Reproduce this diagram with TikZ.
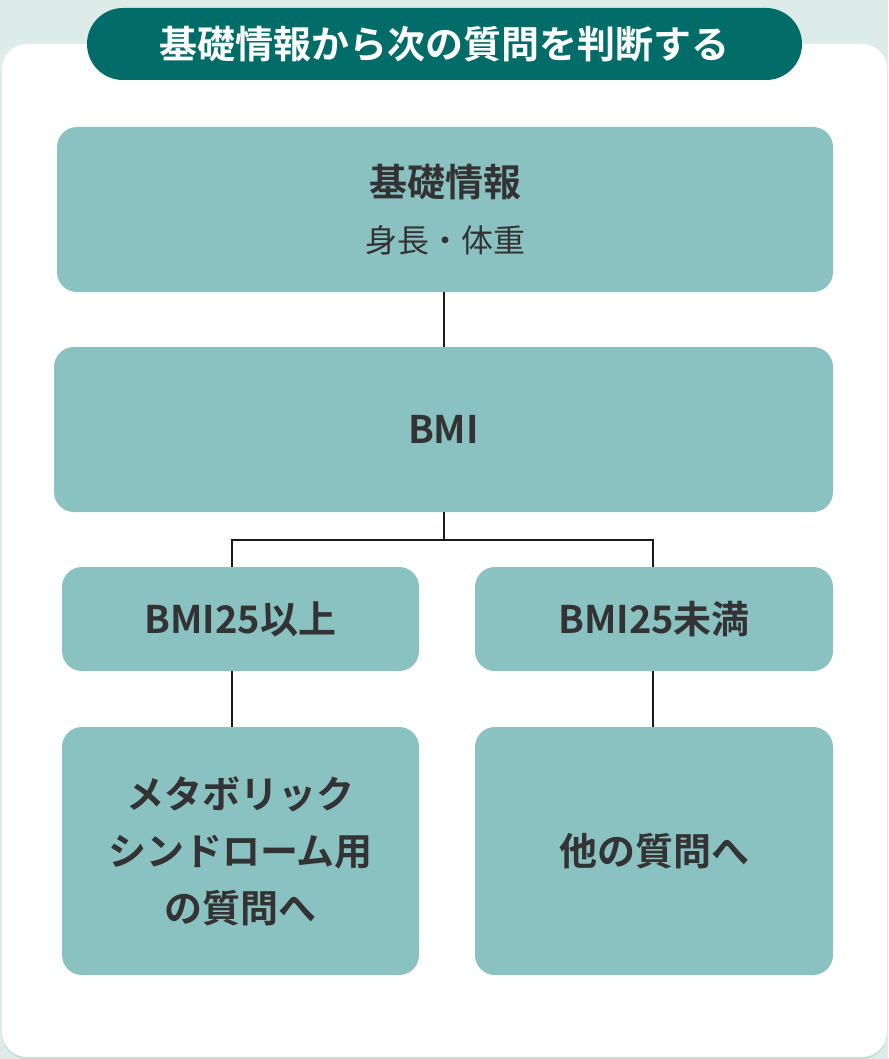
\documentclass[tikz,border=0pt]{standalone}
\usepackage{fontspec}
\setmainfont{Noto Sans CJK JP}[BoldFont={Noto Sans CJK JP Bold}]
\begin{document}
\begin{tikzpicture}[x=1pt,y=-1pt,
    bmibox/.style={shape=rectangle,rounded corners=20pt,fill=bmi_box,text=bmi_text,align=center,inner sep=0pt,
        font=\bfseries\fontsize{38}{57}\selectfont},
    bmilink/.style={draw=bmi_line,line width=2pt}]
    \definecolor{bmi_bg}{RGB}{222,236,233}
    \definecolor{bmi_shadow}{RGB}{194,221,214}
    \definecolor{bmi_head}{RGB}{1,108,104}
    \definecolor{bmi_box}{RGB}{138,193,193}
    \definecolor{bmi_text}{RGB}{51,51,51}
    \definecolor{bmi_line}{RGB}{26,26,26}
    \useasboundingbox (0,0) rectangle (888,1059);
    \fill[bmi_bg] (0,0) rectangle (888,1059);
    \fill[bmi_shadow,rounded corners=25pt] (2,46) rectangle (887,1059);
    \fill[white,rounded corners=25pt] (2,44) rectangle (887,1057);
    \node (head) [shape=rectangle,rounded corners=36pt,fill=bmi_head,text=white,minimum width=715pt,minimum height=72pt,
        font=\bfseries\fontsize{38}{46}\selectfont] at (444.5,44) {基礎情報から次の質問を判断する};
    \node (info)  [bmibox,minimum width=776pt,minimum height=165pt] at (445,209.5)
        {基礎情報\\[-1pt]{\mdseries\fontsize{32}{46}\selectfont 身長・体重}};
    \node (bmi)   [bmibox,minimum width=779pt,minimum height=165pt] at (443.5,429.5) {BMI};
    \node (high)  [bmibox,minimum width=357pt,minimum height=104pt] at (240.5,619) {BMI25以上};
    \node (low)   [bmibox,minimum width=358pt,minimum height=104pt] at (654,619) {BMI25未満};
    \node (meta)  [bmibox,minimum width=357pt,minimum height=248pt] at (240.5,851) {メタボリック\\シンドローム用\\の質問へ};
    \node (other) [bmibox,minimum width=358pt,minimum height=248pt] at (654,851) {他の質問へ};
    \coordinate (fork) at (444,540);
    \draw[bmilink] ([xshift=-1pt]info.south) -- ([xshift=0.5pt]bmi.north);
    \draw[bmilink] ([xshift=0.5pt]bmi.south) -- (fork);
    \draw[bmilink] (fork) -| ([xshift=-8.5pt]high.north);
    \draw[bmilink] (fork) -| ([xshift=-1pt]low.north);
    \draw[bmilink] ([xshift=-8.5pt]high.south) -- ([xshift=-8.5pt]meta.north);
    \draw[bmilink] ([xshift=-1pt]low.south) -- ([xshift=-1pt]other.north);
\end{tikzpicture}
\end{document}
